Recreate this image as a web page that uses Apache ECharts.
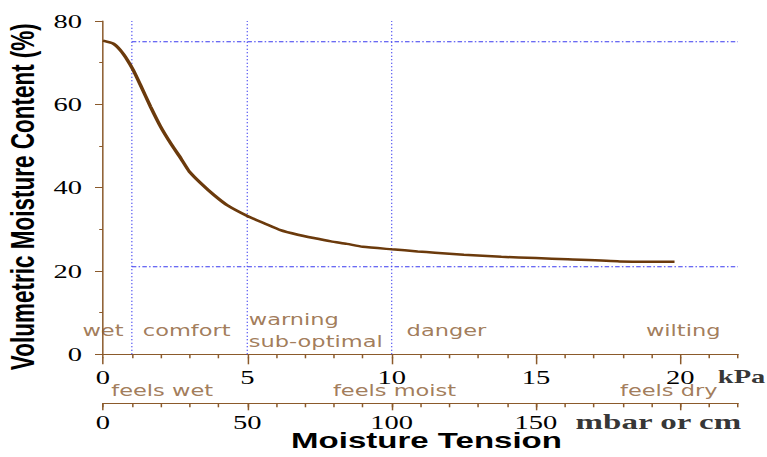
<!DOCTYPE html>
<html>
<head>
<meta charset="utf-8">
<script src="https://cdn.jsdelivr.net/npm/echarts@6/dist/echarts.min.js"></script>
<style>
  html, body { margin: 0; padding: 0; background: #fff; overflow: hidden; }
  /* the original picture is stretched sideways, so draw narrow and stretch */
  #main { width: 511px; height: 457px; transform: scaleX(1.501); transform-origin: 0 0; }
</style>
</head>
<body>
<div id="main"></div>
<script>
// moisture release curve
var tensionKpa = [0, 0.35, 0.6, 0.85, 1.05, 1.3, 1.65, 2.0, 2.35, 2.7, 3.0, 3.4, 3.85, 4.3, 5.0, 5.6, 6.15, 6.75, 7.3, 7.9, 8.45, 9.0, 10.0, 10.9, 11.5, 12.5, 13.8, 15.0, 16.1, 17.9, 19.8];
var moisture = [75.3, 74.6, 73.0, 70.6, 68.2, 64.6, 59.4, 54.6, 50.6, 47.0, 43.8, 41.0, 38.2, 35.8, 33.2, 31.4, 29.8, 28.7, 27.9, 27.1, 26.5, 25.8, 25.2, 24.7, 24.4, 23.9, 23.4, 23.1, 22.8, 22.3, 22.2];

// guide lines
var guideKpa = [1, 5, 10];
var guideMoisture = [75, 21];

// tick labels
var kpaLabels = [0, 5, 10, 15, 20];
var mbarTicks = [0, 50, 100, 150, 200];
var mbarLabels = [0, 50, 100, 150];

// zone notes (kPa, moisture %)
var zoneText = ['wet', 'comfort', 'warning\nsub-optimal', 'danger', 'wilting', 'feels wet', 'feels moist', 'feels dry'];
var zoneKpa = [0, 2.9, 5.05, 11.9, 20.1, 2.05, 10.1, 19.6];
var zoneMoisture = [5.6, 5.6, 5.6, 5.6, 5.6, -8.8, -8.8, -8.8];

// unit notes
var unitText = ['kPa', 'mbar or cm'];
var unitKpa = [21.3, 16.37];
var unitMoisture = [-5.2, -16.2];

var brown = '#8b5a2b';
var guideBlue = '#3a3af0';

var chart = echarts.init(document.getElementById('main'), null, { renderer: 'svg' });

var serifLabel = { fontFamily: 'Liberation Serif', fontSize: 19, color: '#000' };

var series = [];
guideKpa.forEach(function (g) {
  series.push({
    type: 'line', silent: true, symbol: 'none', z: 1,
    data: [[g, 0], [g, 80]],
    lineStyle: { color: guideBlue, width: 0.9, type: [1, 2.5] }
  });
});
guideMoisture.forEach(function (h) {
  series.push({
    type: 'line', silent: true, symbol: 'none', z: 1,
    data: [[1, h], [22, h]],
    lineStyle: { color: guideBlue, width: 1, type: [3, 1.5, 1, 1.5] }
  });
});
series.push({
  type: 'line', silent: true, showSymbol: false, smooth: 0.2, z: 3,
  data: tensionKpa.map(function (x, i) { return [x, moisture[i]]; }),
  lineStyle: { color: '#6b3a0c', width: 2.5 }
});
series.push({
  type: 'scatter', silent: true, clip: false, symbolSize: 0, z: 4,
  data: zoneText.map(function (t, i) {
    return {
      name: t,
      value: [zoneKpa[i], zoneMoisture[i]],
      label: { align: t.indexOf('warning') === 0 ? 'left' : 'center' }
    };
  }),
  label: {
    show: true, position: 'inside', formatter: '{b}',
    fontFamily: 'DejaVu Sans', fontSize: 15, lineHeight: 22, color: '#8a5a30'
  }
});
series.push({
  type: 'scatter', silent: true, clip: false, symbolSize: 0, z: 4,
  data: unitText.map(function (t, i) {
    return { name: t, value: [unitKpa[i], unitMoisture[i]], label: { fontSize: i === 0 ? 19 : 22 } };
  }),
  label: {
    show: true, position: 'inside', align: 'left', formatter: '{b}',
    fontFamily: 'Liberation Serif', fontWeight: 'bold', color: '#000'
  }
});

var option = {
  animation: false,
  grid: { left: 68.6, right: 19.3, top: 21, bottom: 102.7, outerBoundsMode: 'none' },
  xAxis: [
    {
      type: 'value', min: 0, max: 22, interval: 1, position: 'bottom', offset: 3,
      axisLine: { lineStyle: { color: brown, width: 1 } },
      axisTick: { length: 4, lineStyle: { color: brown } },
      axisLabel: { show: false },
      splitLine: { show: false }
    },
    {
      type: 'value', min: 0, max: 22, interval: 1, position: 'bottom', offset: 3,
      axisLine: { show: false },
      axisTick: { customValues: kpaLabels, length: 7, lineStyle: { color: brown } },
      axisLabel: Object.assign({ customValues: kpaLabels, margin: 11 }, serifLabel),
      splitLine: { show: false }
    },
    {
      type: 'value', min: 0, max: 220, interval: 10, position: 'bottom', offset: 49,
      axisLine: { lineStyle: { color: brown, width: 1 } },
      axisTick: { length: 4, lineStyle: { color: brown } },
      axisLabel: { show: false },
      splitLine: { show: false }
    },
    {
      type: 'value', min: 0, max: 220, interval: 10, position: 'bottom', offset: 49,
      axisLine: { show: false },
      axisTick: { customValues: mbarTicks, length: 7, lineStyle: { color: brown } },
      axisLabel: Object.assign({ customValues: mbarLabels, margin: 10 }, serifLabel),
      splitLine: { show: false },
      name: 'Moisture Tension', nameLocation: 'middle', nameGap: 26, nameMoveOverlap: false,
      nameTextStyle: { fontFamily: 'Liberation Sans', fontWeight: 'bold', fontSize: 22, color: '#000', padding: [0, 0, 0, 8] }
    }
  ],
  yAxis: {
    type: 'value', min: 0, max: 80, interval: 20,
    axisLine: { show: true, lineStyle: { color: brown, width: 1 } },
    axisTick: { show: true, length: 5.3, lineStyle: { color: brown } },
    minorTick: { show: true, splitNumber: 2, length: 2.5, lineStyle: { color: brown } },
    axisLabel: Object.assign({ margin: 14 }, serifLabel),
    splitLine: { show: false },
    name: 'Volumetric Moisture Content (%)', nameLocation: 'middle', nameGap: 42, nameMoveOverlap: false,
    nameTextStyle: { fontFamily: 'Liberation Sans', fontWeight: 'bold', fontSize: 22.5, color: '#000', padding: [0, 18, 0, 0] }
  },
  series: series
};

chart.setOption(option);
</script>
</body>
</html>
